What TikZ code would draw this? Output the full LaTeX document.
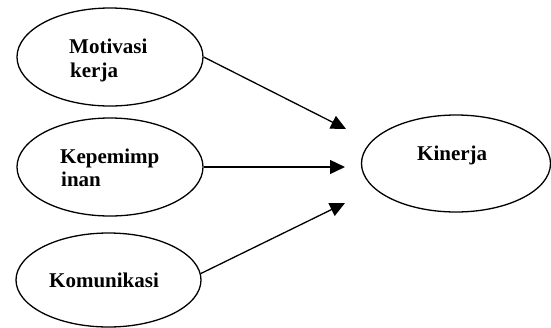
\documentclass[tikz,border=0pt]{standalone}
\usepackage{fontspec}
\setmainfont{Liberation Serif}
\usetikzlibrary{arrows.meta,shapes.geometric}
\begin{document}
\begin{tikzpicture}[x=1pt,y=-1pt,
  oval/.style={draw=black,line width=1.3pt,ellipse,inner sep=0pt},
  lbl/.style={anchor=base west,inner sep=0pt,font=\fontsize{21}{24}\selectfont\bfseries},
  conn/.style={line width=1.3pt,-{Triangle[length=15pt,width=14pt]}}]
\useasboundingbox (0,0) rectangle (551,327);
\node[oval,minimum width=186pt,minimum height=98pt] (mot) at (110,57) {};
\node[oval,minimum width=186pt,minimum height=98pt] (kep) at (110,167) {};
\node[oval,minimum width=185pt,minimum height=94pt] (kom) at (108.5,280) {};
\node[oval,minimum width=189pt,minimum height=97pt] (kin) at (456,163.5) {};
\node[lbl] (m1) at (69,53) {Motivasi};
\node[lbl] (m2) at (70,77) {kerja};
\node[lbl] (k1) at (60,163) {Kepemimp};
\node[lbl] (k2) at (61,186) {inan};
\node[lbl] (ko) at (49,287) {Komunikasi};
\node[lbl] (ki) at (417,160) {Kinerja};
\coordinate (t1) at (346,129);
\coordinate (t2) at (345,167);
\coordinate (t3) at (345,203);
\draw[conn] (mot.east) -- (t1);
\draw[conn] (kep.east) -- (t2);
\draw[conn] (kom.4) -- (t3);
\end{tikzpicture}
\end{document}
